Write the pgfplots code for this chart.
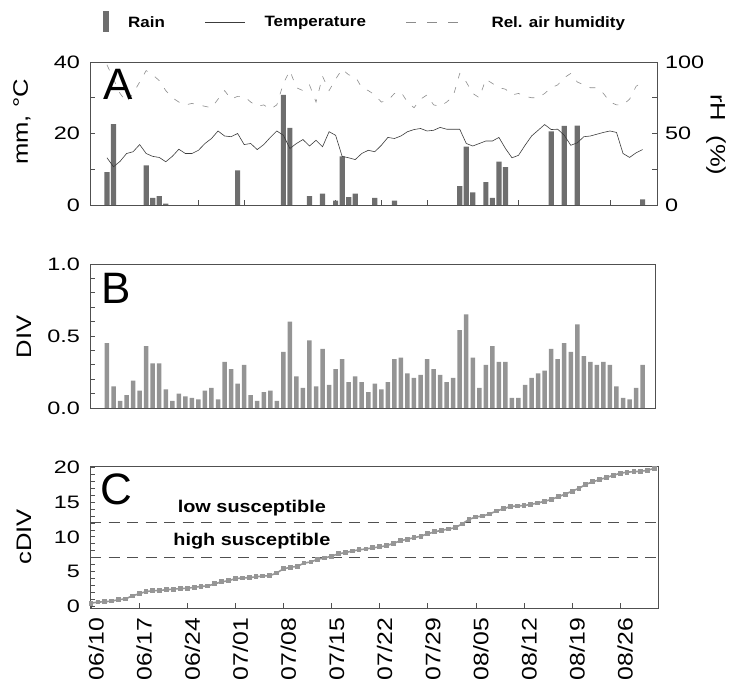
\documentclass[border=0pt]{standalone}
\usepackage{fontspec}
\setmainfont{Liberation Sans}
\newfontfamily\tickfont{Liberation Sans}[FakeStretch=1.3]
\newfontfamily\labfont{Liberation Sans}[FakeStretch=1.22]
\newfontfamily\datefont{Liberation Sans}[FakeStretch=1.18]
\newfontfamily\legfont{Liberation Sans}[FakeStretch=1.13]
\newfontfamily\annfont{Liberation Sans}[FakeStretch=1.17]
\usepackage{pgfplots}
\usepackage{pgfplotstable}
\pgfplotsset{compat=1.18}

\definecolor{rain}{RGB}{110,110,110}
\definecolor{divbar}{RGB}{148,148,148}
\definecolor{cum}{RGB}{150,150,150}
\definecolor{axc}{RGB}{80,80,80}
\definecolor{temp}{RGB}{60,60,60}
\definecolor{hum}{RGB}{140,140,140}

% rain (mm), day index 0 = 06/10
\pgfplotstableread{
d rain
0 9.2
1 22.6
6 11.1
7 2.0
8 2.5
9 0.4
20 9.7
27 30.8
28 21.6
31 2.5
33 3.2
35 1.2
36 13.6
37 2.2
38 3.2
41 2.0
44 1.2
54 5.3
55 16.3
56 3.5
58 6.4
59 2.0
60 12.1
61 10.6
68 20.6
70 22.1
72 22.2
82 1.6
}\rain

% temperature (C) and rel. humidity (%)
\pgfplotstableread{
d t rh
0 13.2 98
1 10.7 88
2 12.2 78
3 14.4 72
4 14.9 78
5 16.9 86
6 14.4 94
7 13.6 91
8 13.3 87
9 12.1 80
10 13.6 75
11 15.6 72
12 14.4 70
13 14.4 71
14 15.3 70
15 17.2 69
16 18.6 68
17 20.7 74
18 19.3 80
19 19.1 74
20 20.0 76
21 16.9 76
22 17.2 72
23 15.5 69
24 16.9 70
25 18.9 67
26 20.7 70
27 19.5 85
28 15.8 94
29 17.2 82
30 18.3 80
31 16.5 84
32 18.1 72
33 16.3 90
34 20.5 80
35 19.5 88
36 13.6 95
37 13.2 91
38 12.7 90
39 14.4 82
40 15.3 80
41 14.9 77
42 16.7 72
43 18.9 73
44 18.6 78
45 19.3 79
46 20.5 72
47 21.1 68
48 21.4 74
49 20.7 77
50 20.9 70
51 21.7 69
52 21.2 72
53 21.2 76
54 21.2 92
55 17.2 86
56 16.5 78
57 17.2 75
58 17.9 88
59 17.9 85
60 18.9 82
61 15.8 81
62 13.2 77
63 13.9 78
64 16.7 76
65 19.3 75
66 20.9 75
67 22.5 78
68 21.1 82
69 21.2 84
70 19.5 89
71 16.7 92
72 17.4 86
73 19.1 84
74 19.3 82
75 19.8 82
76 20.3 78
77 20.7 72
78 20.3 70
79 14.4 70
80 13.3 74
81 14.6 83
82 15.5 86
}\wx

% daily DIV and cumulative DIV
\pgfplotstableread{
d div cdiv
0 0.45 0.45
1 0.15 0.60
2 0.05 0.65
3 0.09 0.75
4 0.19 0.94
5 0.12 1.06
6 0.43 1.49
7 0.31 1.80
8 0.31 2.11
9 0.13 2.24
10 0.05 2.28
11 0.10 2.38
12 0.08 2.47
13 0.07 2.54
14 0.06 2.60
15 0.12 2.72
16 0.14 2.86
17 0.06 2.92
18 0.32 3.24
19 0.27 3.51
20 0.17 3.68
21 0.30 3.98
22 0.09 4.07
23 0.05 4.12
24 0.11 4.24
25 0.12 4.36
26 0.05 4.40
27 0.39 4.79
28 0.60 5.39
29 0.22 5.61
30 0.14 5.75
31 0.47 6.22
32 0.15 6.38
33 0.41 6.79
34 0.16 6.95
35 0.27 7.22
36 0.34 7.55
37 0.18 7.73
38 0.22 7.95
39 0.18 8.13
40 0.11 8.25
41 0.17 8.42
42 0.13 8.55
43 0.18 8.73
44 0.34 9.06
45 0.35 9.42
46 0.24 9.66
47 0.21 9.87
48 0.23 10.10
49 0.34 10.44
50 0.27 10.71
51 0.23 10.94
52 0.18 11.12
53 0.21 11.33
54 0.54 11.86
55 0.65 12.51
56 0.35 12.86
57 0.14 13.00
58 0.30 13.30
59 0.43 13.72
60 0.32 14.04
61 0.32 14.36
62 0.07 14.44
63 0.07 14.51
64 0.16 14.67
65 0.21 14.87
66 0.24 15.12
67 0.26 15.38
68 0.41 15.79
69 0.34 16.14
70 0.45 16.58
71 0.39 16.98
72 0.58 17.56
73 0.36 17.92
74 0.32 18.24
75 0.30 18.54
76 0.32 18.86
77 0.30 19.15
78 0.15 19.31
79 0.07 19.38
80 0.06 19.44
81 0.14 19.58
82 0.30 19.87
}\dv

\pgfplotsset{
  panel/.style={
    scale only axis,
    anchor=south west,
    axis line style={axc, line width=0.8pt},
    tick style={axc, line width=0.7pt},
    tick align=inside,
    major tick length=5pt,
    minor tick length=5pt,
    tick label style={font=\tickfont\fontsize{18}{18}\selectfont, text=black},
    /pgf/number format/assume math mode=true,
  },
}

\begin{document}
\begin{tikzpicture}
\path[use as bounding box] (0pt,0pt) rectangle (738pt,682pt);

% ---- panel A: rain + temperature (left axis)
\begin{axis}[panel,
  at={(90pt,477pt)}, width=567pt, height=143pt,
  xmin=-2.6, xmax=84.2, ymin=0, ymax=40,
  ytick={0,20,40}, minor ytick={10,30}, ytick pos=left,
  xtick={0,7,...,77}, xticklabels={}, xtick pos=bottom,
  yticklabel style={anchor=east, inner sep=0pt, xshift=-10pt},
  legend style={at={(axis description cs:0.0229,1.28)}, anchor=west,
    draw=none, fill=none, inner sep=0pt, legend columns=-1,
    font=\legfont\bfseries\fontsize{15}{15}\selectfont,
    nodes={inner sep=0pt},
    /tikz/every odd column/.append style={column sep=19pt},
    /tikz/every even column/.append style={column sep=40pt}},
]
\addplot[ybar, bar width=5.2pt, bar shift=0pt, fill=rain, draw=none,
  legend image code/.code={\fill[rain] (0pt,-10pt) rectangle (6pt,11pt);}]
  table[x=d, y=rain]{\rain};
\addlegendentry{Rain}
\addplot[temp, line width=0.6pt, no marks,
  legend image code/.code={\draw[temp, line width=0.6pt] (0pt,0pt) -- (40pt,0pt);}]
  table[x=d, y=t]{\wx};
\addlegendentry{Temperature}
\addlegendimage{legend image code/.code={\draw[hum, line width=0.6pt, dash pattern=on 10pt off 11pt] (0pt,0pt) -- (52pt,0pt);}}
\addlegendentry{\hspace*{14pt}Rel. air humidity}
\end{axis}

% ---- panel A: humidity (right axis)
\begin{axis}[panel,
  at={(90pt,477pt)}, width=567pt, height=143pt,
  xmin=-2.6, xmax=84.2, ymin=0, ymax=100,
  axis y line*=right, axis x line=none,
  ytick={0,50,100}, minor ytick={25,75},
  yticklabel style={anchor=west, inner sep=0pt, xshift=8pt},
]
\addplot[hum, line width=0.6pt, no marks, dash pattern=on 6pt off 9pt]
  table[x=d, y=rh]{\wx};
\end{axis}

% ---- panel B: DIV
\begin{axis}[panel,
  at={(90pt,274pt)}, width=565pt, height=144pt,
  xmin=-2.6, xmax=83.9, ymin=0, ymax=1,
  ytick={0,0.5,1}, yticklabels={0.0,0.5,1.0},
  minor ytick={0.1,0.2,0.3,0.4,0.6,0.7,0.8,0.9}, ytick pos=left,
  xtick=\empty,
  yticklabel style={anchor=east, inner sep=0pt, xshift=-10pt},
]
\addplot[ybar, bar width=4.5pt, bar shift=0pt, fill=divbar, draw=none]
  table[x=d, y=div]{\dv};
\end{axis}

% ---- panel C: cumulative DIV
\begin{axis}[panel,
  at={(90pt,74pt)}, width=568pt, height=142pt,
  xmin=-0.15, xmax=82.5, ymin=-0.25, ymax=20.2,
  ytick={0,5,10,15,20}, minor y tick num=4, ytick pos=left,
  xtick={0,7,...,77}, xtick pos=bottom,
  xticklabels={06/10,06/17,06/24,07/01,07/08,07/15,07/22,07/29,08/05,08/12,08/19,08/26},
  xticklabel style={xshift=5pt, yshift=-10pt, rotate=90, anchor=east, inner sep=0pt,
    font=\datefont\fontsize{21}{21}\selectfont},
  yticklabel style={anchor=east, inner sep=0pt, xshift=-10pt},
]
\addplot[axc, line width=1.1pt, dash pattern=on 11pt off 7.5pt]
  coordinates {(-0.15,12) (82.3,12)};
\addplot[axc, line width=1.1pt, dash pattern=on 11pt off 7.5pt]
  coordinates {(-0.15,7) (82.3,7)};
\addplot[cum, line width=1.6pt, mark=square*, mark size=1.6pt, mark options={cum}]
  table[x=d, y=cdiv]{\dv};
\node[font=\annfont\bfseries\fontsize{17}{17}\selectfont] at (axis cs:23.4,14.2) {low susceptible};
\node[font=\annfont\bfseries\fontsize{17}{17}\selectfont] at (axis cs:23.4,9.45) {high susceptible};
\end{axis}

% axis titles and panel letters
\node[rotate=90, font=\labfont\fontsize{21}{21}\selectfont] at (22pt,560pt) {mm, °C};
\node[rotate=-90, font=\labfont\fontsize{21}{21}\selectfont] at (716pt,547pt) {rH\ \ (\%)};
\node[rotate=90, font=\labfont\fontsize{21}{21}\selectfont] at (24pt,345pt) {DIV};
\node[rotate=90, font=\labfont\fontsize{21}{21}\selectfont] at (24pt,145pt) {cDIV};
\node[font=\fontsize{44}{44}\selectfont] at (118pt,598pt) {A};
\node[font=\fontsize{44}{44}\selectfont] at (116.5pt,394pt) {B};
\node[font=\fontsize{44}{44}\selectfont] at (116pt,193pt) {C};
\end{tikzpicture}
\end{document}
